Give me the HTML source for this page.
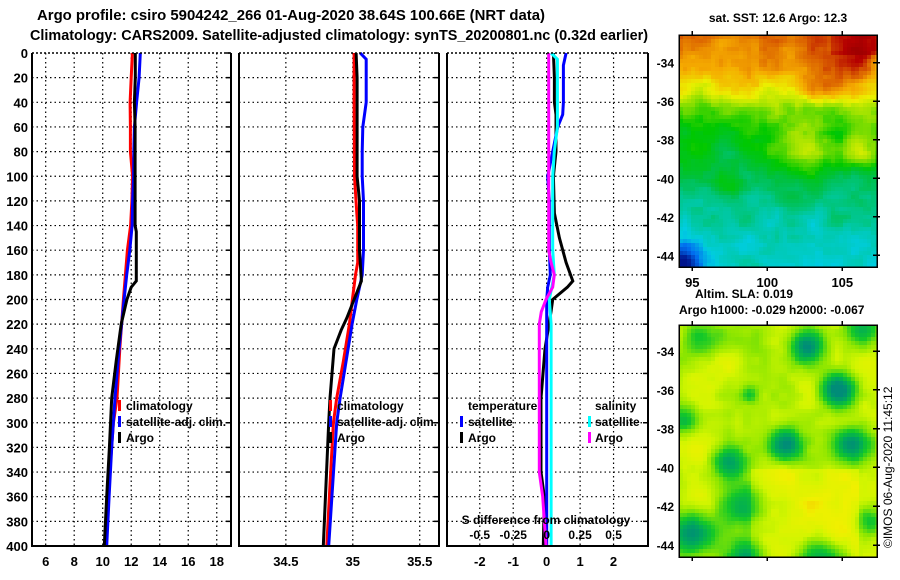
<!DOCTYPE html>
<html><head><meta charset="utf-8">
<style>
html,body{margin:0;padding:0;background:#fff;}
svg{display:block;font-family:"Liberation Sans",sans-serif;font-weight:bold;}
</style></head>
<body>
<svg id="fig" width="900" height="580" viewBox="0 0 900 580" xmlns="http://www.w3.org/2000/svg">
<text x="37" y="20" font-size="14.5" textLength="508" lengthAdjust="spacingAndGlyphs">Argo profile: csiro 5904242_266 01-Aug-2020 38.64S 100.66E (NRT data)</text>
<text x="30" y="40" font-size="14.5" textLength="618" lengthAdjust="spacingAndGlyphs">Climatology: CARS2009. Satellite-adjusted climatology: synTS_20200801.nc (0.32d earlier)</text>
<g id="panels"></g>
<g id="maps"></g>
<text x="778" y="22" font-size="12" text-anchor="middle">sat. SST: 12.6 Argo: 12.3</text>
<text x="695" y="298" font-size="12">Altim. SLA: 0.019</text>
<text x="679" y="314" font-size="12">Argo h1000: -0.029 h2000: -0.067</text>
<text transform="translate(892,548) rotate(-90)" font-size="12" font-weight="normal">©IMOS 06-Aug-2020 11:45:12</text>
</svg>
<script>
// ---- data ----
const depthTicks=[0,20,40,60,80,100,120,140,160,180,200,220,240,260,280,300,320,340,360,380,400];
const tTicks=[6,8,10,12,14,16,18];
const sTicks=[34.5,35,35.5];
const dTicks=[-2,-1,0,1,2];
const dsTicks=[-0.5,-0.25,0,0.25,0.5];
const tClimDepth=[0,20,40,60,80,100,120,140,160,180,200,240,280,300,340,400];
const tClimVal=[12.08,12.0,11.92,11.94,11.94,12.1,12.05,11.96,11.73,11.59,11.45,11.2,11.0,10.75,10.5,10.23];
const tSatDepth=[0,20,40,60,80,100,120,140,160,180,200,240,280,320,360,400];
const tSatVal=[12.64,12.55,12.38,12.22,12.18,12.17,12.1,12.06,11.9,11.68,11.5,11.15,10.86,10.63,10.45,10.28];
const tArgoDepth=[0,20,40,60,100,140,145,185,190,200,220,250,280,320,360,400];
const tArgoVal=[12.29,12.29,12.22,12.27,12.27,12.27,12.36,12.36,12.0,11.7,11.3,10.95,10.63,10.47,10.28,10.11];
const sClimDepth=[0,40,100,130,140,170,180,200,220,250,280,300,350,400];
const sClimVal=[35.01,35.01,35.013,35.03,35.037,35.037,35.02,34.997,34.975,34.93,34.88,34.855,34.83,34.806];
const sSatDepth=[0,5,20,40,60,80,100,120,160,180,200,220,250,280,300,350,400];
const sSatVal=[35.055,35.1,35.1,35.1,35.075,35.07,35.07,35.08,35.08,35.07,35.03,34.995,34.95,34.905,34.88,34.85,34.82];
const sArgoDepth=[0,20,100,120,160,185,200,215,225,240,280,300,350,400];
const sArgoVal=[35.025,35.032,35.032,35.05,35.05,35.064,35.01,34.955,34.913,34.86,34.83,34.82,34.8,34.78];
const dTSatDepth=[0,10,40,50,60,80,100,120,160,180,190,200,300,400];
const dTSatVal=[0.58,0.5,0.5,0.48,0.33,0.18,0.03,0.08,0.08,0.11,0.03,0,0,0];
const dTArgoDepth=[0,20,40,50,80,100,130,150,170,185,190,200,210,240,280,340,360,400];
const dTArgoVal=[0.2,0.23,0.23,0.28,0.28,0.2,0.23,0.38,0.58,0.78,0.62,0.18,0.13,-0.05,-0.17,-0.17,-0.07,-0.1];
const dSSatDepth=[0,5,60,80,100,160,180,200,220,400];
const dSSatVal=[0.033,0.08,0.08,0.057,0.045,0.045,0.057,0.02,0.033,0.033];
const dSArgoDepth=[0,160,170,180,190,200,210,220,280,340,360,400];
const dSArgoVal=[0.015,0.015,0.033,0.057,0.045,-0.005,-0.04,-0.055,-0.055,-0.055,-0.03,-0.005];

const NS="http://www.w3.org/2000/svg";
function mk(tag,attrs,parent){const e=document.createElementNS(NS,tag);for(const k in attrs)e.setAttribute(k,attrs[k]);parent.appendChild(e);return e;}
const Y0=53,Y1=546;
const yD=d=>Y0+d*(Y1-Y0)/400;
const panelsG=document.getElementById('panels');

function panel(name,x0,x1,vmin,vmax,ticks,fmt,series,showDepth){
  const g=mk('g',{},panelsG);
  
  
  const xs=v=>x0+(v-vmin)/(vmax-vmin)*(x1-x0);
  ticks.forEach(t=>{
    const l=mk('line',{x1:xs(t),x2:xs(t),y1:Y0,y2:Y1,stroke:'#000','stroke-width':1.2,'stroke-dasharray':'1.5,3'},g);
    
    
    if(fmt){const tx=mk('text',{x:xs(t),y:566,'font-size':13,'text-anchor':'middle'},g);tx.textContent=fmt(t);
      
      }
  });
  depthTicks.forEach(d=>{
    if(d>0&&d<400){const l=mk('line',{x1:x0,x2:x1,y1:yD(d),y2:yD(d),stroke:'#000','stroke-width':1.2,'stroke-dasharray':'1.5,3'},g);
      
      }
    mk('line',{x1:x1-5,x2:x1,y1:yD(d),y2:yD(d),stroke:'#000','stroke-width':1.5},g);
    if(showDepth){const tx=mk('text',{x:x0-4,y:yD(d)+5,'font-size':13,'text-anchor':'end'},g);tx.textContent=d;
      
      }
  });
  series.forEach(s=>{
    const pts=s.d.map((d,i)=>xs(s.v[i]*(s.k||1)).toFixed(1)+','+yD(d).toFixed(1)).join(' ');
    const p=mk('polyline',{points:pts,fill:'none',stroke:s.c,'stroke-width':3},g);
    
    
  });
  const ax=mk('polyline',{points:`${x0},${Y0} ${x0},${Y1} ${x1},${Y1} ${x1},${Y0}`,fill:'none',stroke:'#000','stroke-width':2},g);
  
  
  mk('line',{x1:x0,x2:x1,y1:Y0,y2:Y0,stroke:'#000','stroke-width':1.5,'stroke-dasharray':'2,2'},g);
  return {g,xs};
}
const P1=panel('temperature-panel',32,231,5.04,19.0,tTicks,t=>t,[
 {d:tClimDepth,v:tClimVal,c:'#f00',n:'temp-climatology-line'},
 {d:tSatDepth,v:tSatVal,c:'#00f',n:'temp-satellite-line'},
 {d:tArgoDepth,v:tArgoVal,c:'#000',n:'temp-argo-line'}],true);
const P2=panel('salinity-panel',239,439,34.15,35.644,sTicks,t=>t,[
 {d:sClimDepth,v:sClimVal,c:'#f00',n:'sal-climatology-line'},
 {d:sSatDepth,v:sSatVal,c:'#00f',n:'sal-satellite-line'},
 {d:sArgoDepth,v:sArgoVal,c:'#000',n:'sal-argo-line'}],false);
const P3=panel('difference-panel',447,648,-2.98,3.03,dTicks,t=>t,[
 {d:dTArgoDepth,v:dTArgoVal,c:'#000',n:'temp-diff-argo-line'},
 {d:dTSatDepth,v:dTSatVal,c:'#00f',n:'temp-diff-satellite-line'},
 {d:dSSatDepth,v:dSSatVal,c:'#0ff',k:4,n:'sal-diff-satellite-line'},
 {d:dSArgoDepth,v:dSArgoVal,c:'#f0f',k:4,n:'sal-diff-argo-line'}],false);
dsTicks.forEach(t=>{const tx=mk('text',{x:P3.xs(t*4),y:539,'font-size':12,'text-anchor':'middle'},P3.g);tx.textContent=t;
 
 });
{const tx=mk('text',{x:546,y:524,'font-size':12,'text-anchor':'middle'},P3.g);tx.textContent='S difference from climatology';
 
 }

function legend(g,mx,tx,y,color,label,name){
  const gg=mk('g',{},g);
  
  
  if(color)mk('rect',{x:mx,y:y-10,width:3,height:11,fill:color},gg);
  const t=mk('text',{x:tx,y:y,'font-size':12},gg);t.textContent=label;
}
legend(P1.g,118,126,410,'#f00','climatology','legend-climatology');
legend(P1.g,118,126,426,'#00f','satellite-adj. clim.','legend-satellite');
legend(P1.g,118,126,442,'#000','Argo','legend-argo');
legend(P2.g,329,337,410,'#f00','climatology','legend-climatology');
legend(P2.g,329,337,426,'#00f','satellite-adj. clim.','legend-satellite');
legend(P2.g,329,337,442,'#000','Argo','legend-argo');
legend(P3.g,0,468,410,null,'temperature','legend-temperature-heading');
legend(P3.g,460,468,426,'#00f','satellite','legend-temp-satellite');
legend(P3.g,460,468,442,'#000','Argo','legend-temp-argo');
legend(P3.g,0,595,410,null,'salinity','legend-salinity-heading');
legend(P3.g,588,595,426,'#0ff','satellite','legend-sal-satellite');
legend(P3.g,588,595,442,'#f0f','Argo','legend-sal-argo');

// ---- maps (decorative image fields) ----
function hash(i,j,s){let h=(i*374761393+j*668265263+s*1442695041)|0;h=(h^(h>>>13))*1274126177|0;return ((h^(h>>>16))>>>0)/4294967295;}
function vnoise(x,y,s){const i=Math.floor(x),j=Math.floor(y),fx=x-i,fy=y-j;const u=fx*fx*(3-2*fx),v=fy*fy*(3-2*fy);
 const a=hash(i,j,s),b=hash(i+1,j,s),c=hash(i,j+1,s),d=hash(i+1,j+1,s);return a+(b-a)*u+(c-a)*v+(a-b-c+d)*u*v;}
function lerpC(stops,v){v=Math.max(0,Math.min(1,v));for(let i=1;i<stops.length;i++){if(v<=stops[i][0]){const a=stops[i-1],b=stops[i];const t=(v-a[0])/(b[0]-a[0]);
 return 'rgb('+[0,1,2].map(k=>Math.round(a[1][k]+(b[1][k]-a[1][k])*t)).join(',')+')';}}return 'rgb('+stops[stops.length-1][1].join(',')+')';}
const sstStops=[[0,[0,20,140]],[0.15,[0,110,240]],[0.25,[0,205,225]],[0.33,[0,200,160]],[0.42,[0,192,70]],[0.5,[0,200,0]],[0.6,[150,225,0]],[0.68,[235,240,0]],[0.78,[245,170,0]],[0.86,[220,100,0]],[0.95,[180,0,0]],[1,[160,0,0]]];
const slaStops=[[0,[0,140,120]],[0.2,[0,170,90]],[0.4,[20,200,40]],[0.6,[140,230,0]],[0.75,[210,245,0]],[0.9,[240,240,0]],[1,[245,200,0]]];
const mapsG=document.getElementById('maps');
function drawMap(name,x0,y0,x1,y1,field,stops,cell){
  const g=mk('g',{'shape-rendering':'crispEdges'},mapsG);
  
  
  for(let y=y0;y<y1;y+=cell)for(let x=x0;x<x1;x+=cell){
    const w=Math.min(cell,x1-x),h=Math.min(cell,y1-y);
    mk('rect',{x:x,y:y,width:w,height:h,fill:lerpC(stops,field(x+cell/2,y+cell/2))},g);
  }
  mk('rect',{x:x0,y:y0,width:x1-x0,height:y1-y0,fill:'none',stroke:'#000','stroke-width':1.5},g);
  return g;
}
function sstField(x,y){
  const t=(y-35)/232;
  const pts=[[0,0.88],[0.15,0.8],[0.25,0.68],[0.32,0.55],[0.45,0.48],[0.55,0.42],[0.7,0.35],[0.85,0.3],[1,0.28]];
  let base=0.28;
  for(let i=1;i<pts.length;i++){if(t>=pts[i-1][0]&&t<=pts[i][0]){const q=(t-pts[i-1][0])/(pts[i][0]-pts[i-1][0]);base=pts[i-1][1]+(pts[i][1]-pts[i-1][1])*q;break;}}
  let v=base+0.1*(vnoise(x/22,y/22,3)-0.5)+0.05*(vnoise(x/7,y/7,5)-0.5);
  const blobs=[[800,150,22,0.15],[862,155,14,0.15],[730,190,10,0.1],[830,90,25,0.08],[860,50,12,0.12],[700,60,20,-0.05]];
  blobs.forEach(b=>{const d=Math.hypot(x-b[0],y-b[1]);v+=b[3]*Math.exp(-(d*d)/(2*b[2]*b[2]));});
  const dc=Math.hypot(x-679,y-267);v-=0.3*Math.exp(-(dc*dc)/(2*18*18));
  if(x>830&&y<55)v+=0.05;
  return v;
}
function slaField(x,y){
  let v=0.72+0.25*(vnoise(x/28,y/28,11)-0.5)+0.08*(vnoise(x/9,y/9,13)-0.5);
  const blobs=[[807,347,11,0.7],[838,390,12,0.75],[786,444,11,0.65],[853,444,13,0.6],[729,465,12,0.6],[690,535,16,0.6],[745,505,14,0.45],[700,340,12,0.35],[745,558,12,0.5],[820,560,16,0.5],[862,330,12,0.5],[870,520,10,0.4],[685,420,10,0.35],[750,395,6,0.3]];
  blobs.forEach(b=>{const d=Math.hypot(x-b[0],y-b[1]);v-=b[3]*Math.exp(-(d*d)/(2*b[2]*b[2]));});
  if(y>470&&x>750&&x<860)v+=0.1;
  return v;
}
const m1=drawMap('sst-map',679,35,877,267,sstField,sstStops,4);
const m2=drawMap('sla-map',679,325,877,557,slaField,slaStops,4);
function mapAxes(g,x0,x1,yTop,yBot,pxPerDeg,latRef,lonLabels){
  [-34,-36,-38,-40,-42,-44].forEach(l=>{const y=latRef+(-34-l)*pxPerDeg;
    mk('line',{x1:x1-4,x2:x1+3,y1:y,y2:y,stroke:'#000','stroke-width':1.5},g);
    const t=mk('text',{x:x0-5,y:y+5,'font-size':12,'text-anchor':'end'},g);t.textContent=l;
    
    });
  [95,100,105].forEach(lo=>{const x=692.3+(lo-95)*15;
    mk('line',{x1:x,x2:x,y1:yBot,y2:yBot+4,stroke:'#000','stroke-width':1.5},g);
    mk('line',{x1:x,x2:x,y1:yTop-4,y2:yTop,stroke:'#000','stroke-width':1.5},g);
    if(lonLabels){const t=mk('text',{x:x,y:yBot+20,'font-size':13,'text-anchor':'middle'},g);t.textContent=lo;
      
      }});
}
mapAxes(m1,679,877,35,267,19.26,62.7,true);
mapAxes(m2,679,877,325,557,19.4,351,false);
</script>
</body></html>
